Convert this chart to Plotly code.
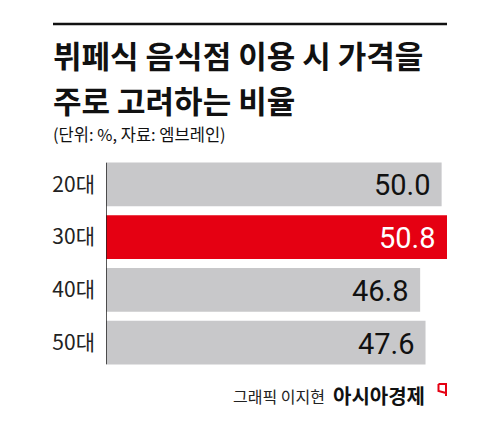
import plotly.graph_objects as go

categories = ["20대", "30대", "40대", "50대"]
values = [50.0, 50.8, 46.8, 47.6]
value_labels = ["50.0", "50.8", "46.8", "47.6"]
highlight = "30대"

title_lines = ["뷔페식 음식점 이용 시 가격을", "주로 고려하는 비율"]
subtitle = "(단위: %, 자료: 엠브레인)"
credit = "그래픽 이지현"
brand = "아시아경제"

# page body has an 8px default margin; compensate
OFF = 8
W, H = 500 - OFF, 433 - OFF
L, R, T, B = 106 - OFF, 53, 158 - OFF, 64
PW, PH = W - L - R, H - T - B

def px(x):
    return (x - OFF - L) / PW

def py(y):
    return 1 - (y - OFF - T) / PH

KFONT = "Noto Sans CJK KR"
GRAY = "#c8c8ca"
RED = "#e50012"

colors = [RED if c == highlight else GRAY for c in categories]

fig = go.Figure(go.Bar(
    y=categories, x=values, orientation="h",
    marker=dict(color=colors, line=dict(width=0)),
    hoverinfo="skip",
))

annotations = []
for c, v, t in zip(categories, values, value_labels):
    annotations.append(dict(
        x=v, y=c, xref="x", yref="y", text=t, showarrow=False,
        xanchor="right", yanchor="middle", xshift=-9, yshift=-1,
        font=dict(family="Roboto", size=29,
                  color="white" if c == highlight else "#111111"),
    ))

annotations += [
    dict(x=px(52), y=py(54), xref="paper", yref="paper", text="<b>" + title_lines[0] + "</b>",
         showarrow=False, xanchor="left", yanchor="middle", borderpad=0,
         font=dict(family=KFONT, size=31, color="#111111")),
    dict(x=px(52), y=py(99.5), xref="paper", yref="paper", text="<b>" + title_lines[1] + "</b>",
         showarrow=False, xanchor="left", yanchor="middle", borderpad=0,
         font=dict(family=KFONT, size=31, color="#111111")),
    dict(x=px(51), y=py(134), xref="paper", yref="paper", text=subtitle,
         showarrow=False, xanchor="left", yanchor="middle",
         font=dict(family=KFONT, size=16.5, color="#111111")),
    dict(x=px(327), y=py(396), xref="paper", yref="paper", text=credit,
         showarrow=False, xanchor="right", yanchor="middle",
         font=dict(family=KFONT, size=16, color="#222222")),
    dict(x=px(331), y=py(395), xref="paper", yref="paper", text="<b>" + brand + "</b>",
         showarrow=False, xanchor="left", yanchor="middle",
         font=dict(family=KFONT, size=20, color="#111111")),
]

shapes = [
    dict(type="line", xref="paper", yref="paper", x0=px(53), x1=px(447), y0=py(24), y1=py(24),
         line=dict(color="#111111", width=2.5)),
    dict(type="line", xref="x", yref="y", x0=0, x1=0, y0=-0.41, y1=3.41,
         line=dict(color="#222222", width=1.5)),
    dict(type="path", xref="paper", yref="paper",
         path=(f"M {px(438.5)} {py(384)} L {px(446)} {py(384)} L {px(446)} {py(396)} "
               f"M {px(438.5)} {py(384)} L {px(438.5)} {py(391)} L {px(446)} {py(393)}"),
         line=dict(color=RED, width=2)),
]

fig.update_layout(
    width=W, height=H,
    margin=dict(l=L, r=R, t=T, b=B, pad=0),
    paper_bgcolor="white", plot_bgcolor="white",
    showlegend=False,
    bargap=0.175,
    xaxis=dict(range=[0, 50.8], visible=False, fixedrange=True),
    yaxis=dict(autorange="reversed", showgrid=False, zeroline=False, showline=False,
               ticks="", ticklabelstandoff=10,
               tickfont=dict(family=KFONT, size=21, color="#222222"), fixedrange=True),
    annotations=annotations,
    shapes=shapes,
)

fig.write_html("out.html")
